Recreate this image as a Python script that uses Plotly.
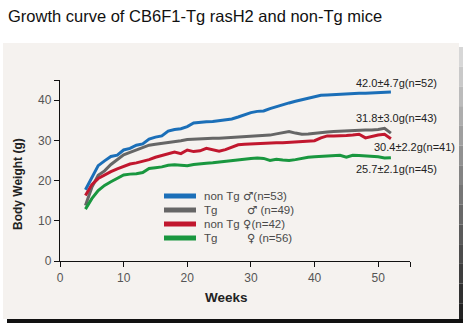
import plotly.graph_objects as go

# Weekly mean body weight (g), weeks 4-52
weeks = list(range(4, 53))

non_tg_male = [17.7, 20.8, 23.7, 24.9, 26.0, 26.3, 27.6, 28.0, 28.8, 29.1,
               30.3, 30.8, 31.1, 32.3, 32.7, 32.9, 33.4, 34.3, 34.5, 34.6,
               34.7, 34.9, 35.0, 35.3, 35.8, 36.3, 36.9, 37.2, 37.3, 37.9,
               38.4, 38.9, 39.3, 39.7, 40.1, 40.5, 40.9, 41.2, 41.3, 41.4,
               41.5, 41.5, 41.6, 41.7, 41.7, 41.8, 41.9, 41.9, 42.0]
tg_male = [13.8, 18.3, 21.3, 22.4, 24.0, 25.2, 26.4, 27.0, 27.6, 28.2,
           28.8, 29.0, 29.2, 29.4, 29.7, 29.9, 30.2, 30.3, 30.4, 30.4,
           30.5, 30.5, 30.6, 30.7, 30.8, 30.9, 31.0, 31.0, 31.1, 31.3,
           31.6, 31.9, 32.2, 31.8, 31.5, 31.6, 31.8, 32.0, 32.1, 32.2,
           32.3, 32.4, 32.4, 32.5, 32.6, 32.6, 32.7, 33.0, 31.8]
non_tg_female = [16.3, 19.0, 20.5, 21.4, 22.2, 22.9, 23.5, 24.1, 24.4, 24.8,
                 25.2, 25.8, 26.2, 26.7, 27.1, 26.7, 27.6, 27.2, 27.4, 28.0,
                 27.6, 27.3, 27.7, 28.3, 28.9, 29.0, 29.1, 29.2, 29.3, 29.3,
                 29.4, 29.4, 29.5, 29.6, 29.7, 29.8, 29.9, 30.6, 31.1, 31.1,
                 31.1, 31.2, 31.3, 31.5, 30.6, 31.0, 31.3, 31.5, 30.4]
tg_female = [12.9, 15.5, 17.5, 18.8, 19.7, 20.6, 21.4, 21.6, 21.7, 22.0,
             23.0, 23.2, 23.4, 23.8, 23.9, 23.8, 23.7, 24.0, 24.2, 24.3,
             24.4, 24.6, 24.8, 25.0, 25.2, 25.4, 25.5, 25.6, 25.5, 25.0,
             25.3, 25.1, 25.0, 25.2, 25.5, 25.8, 25.9, 26.0, 26.1, 26.2,
             26.3, 25.8, 26.3, 26.2, 26.1, 26.0, 25.9, 25.6, 25.7]

series = [non_tg_male, tg_male, non_tg_female, tg_female]
colors = ["#1b6fb8", "#666666", "#c1172e", "#19973f"]
groups = ["non Tg", "Tg", "non Tg", "Tg"]
sex_symbols = ["\u2642", "\u2642", "\u2640", "\u2640"]
legend_n = [53, 49, 42, 56]

# Week-52 summary: mean, SD, n
final_sd = [4.7, 3.0, 2.2, 2.1]
final_n = [52, 43, 41, 45]

x_ticks = [0, 10, 20, 30, 40, 50, 55]
x_labels = ["0", "10", "20", "30", "40", "50", ""]
y_ticks = [0, 10, 20, 30, 40, 45]
y_labels = ["0", "10", "20", "30", "40", ""]

W, H = 468, 327
L, R, T, B = 60, 58, 80, 66
PW, PH = W - L - R, H - T - B

FONT = "Arial, Liberation Sans, sans-serif"
SYM_FONT = "DejaVu Sans, sans-serif"


def px(x):
    return (x - L) / PW


def py(y):
    return (H - B - y) / PH


fig = go.Figure()
for ys, c in zip(series, colors):
    fig.add_trace(go.Scatter(x=weeks, y=ys, mode="lines",
                             line=dict(color=c, width=3), showlegend=False,
                             hoverinfo="skip"))

shapes = []
# panel background and drop shadow
shapes.append(dict(type="rect", xref="paper", yref="paper", layer="below",
                   x0=px(3), x1=px(459), y0=py(43), y1=py(319),
                   fillcolor="#f5f2ef", line=dict(width=0)))
n_seg = 14
top, bot = 47, 323
for i in range(n_seg):
    y0 = top + (bot - top) * i / n_seg
    y1 = top + (bot - top) * (i + 1) / n_seg
    g = int(215 - (215 - 35) * (i / (n_seg - 1)))
    shapes.append(dict(type="rect", xref="paper", yref="paper", layer="below",
                       x0=px(459), x1=px(463), y0=py(y0), y1=py(y1),
                       fillcolor=f"rgb({g},{g},{g})", line=dict(width=0)))
shapes.append(dict(type="rect", xref="paper", yref="paper", layer="below",
                   x0=px(7), x1=px(463), y0=py(319), y1=py(323),
                   fillcolor="#111111", line=dict(width=0)))

annotations = []
# legend
leg_y = [196, 210, 224, 238]
sym_x = [241, 245, 241, 245]
for yy, c, g, s, n, sx in zip(leg_y, colors, groups, sex_symbols, legend_n, sym_x):
    shapes.append(dict(type="line", xref="paper", yref="paper",
                       x0=px(164), x1=px(196), y0=py(yy), y1=py(yy),
                       line=dict(color=c, width=5)))
    annotations.append(dict(xref="paper", yref="paper", x=px(202), y=py(yy),
                            text=g, showarrow=False, xanchor="left",
                            yanchor="middle",
                            font=dict(family=FONT, size=11.5, color="#4a4a4a")))
    gap = "" if sx == 241 else " "
    annotations.append(dict(xref="paper", yref="paper", x=px(sx), y=py(yy),
                            text=(f"<span style='font-family:{SYM_FONT}'>{s}</span>"
                                  f"{gap}(n={n})"),
                            showarrow=False, xanchor="left", yanchor="middle",
                            font=dict(family=FONT, size=11.5, color="#4a4a4a")))

# week-52 summary labels
lab_pos = [(46.2, 44.2), (46.2, 35.5), (49.0, 28.3), (46.2, 22.8)]
for ys, sd, n, (lx, ly) in zip(series, final_sd, final_n, lab_pos):
    annotations.append(dict(x=lx, y=ly, xref="x", yref="y",
                            text=f"{ys[-1]:.1f}\u00b1{sd:.1f}g(n={n})",
                            showarrow=False, xanchor="left", yanchor="middle",
                            font=dict(family=FONT, size=11, color="#222222")))

# title and axis titles
annotations.append(dict(xref="paper", yref="paper", x=px(6), y=py(16),
                        text="Growth curve of CB6F1-Tg rasH2 and non-Tg mice",
                        showarrow=False, xanchor="left", yanchor="middle",
                        font=dict(family=FONT, size=16.5, color="#111111")))
annotations.append(dict(xref="paper", yref="paper", x=px(18), y=py(184),
                        text="<b>Body Weight (g)</b>", textangle=-90,
                        showarrow=False, xanchor="center", yanchor="middle",
                        font=dict(family=FONT, size=12, color="#222222")))
annotations.append(dict(xref="paper", yref="paper", x=px(226), y=py(297),
                        text="<b>Weeks</b>", showarrow=False,
                        xanchor="center", yanchor="middle",
                        font=dict(family=FONT, size=13.5, color="#222222")))

axis_common = dict(showline=True, linecolor="#111111", linewidth=1.3,
                   ticks="outside", ticklen=5, tickwidth=1.3,
                   tickcolor="#111111", showgrid=False, zeroline=False,
                   tickfont=dict(family=FONT, size=12, color="#555555"))

fig.update_layout(
    width=W, height=H,
    margin=dict(l=L, r=R, t=T, b=B, pad=0),
    paper_bgcolor="white", plot_bgcolor="rgba(0,0,0,0)",
    xaxis=dict(range=[0, 55], tickvals=x_ticks, ticktext=x_labels,
               **axis_common),
    yaxis=dict(range=[0, 45], tickvals=y_ticks, ticktext=y_labels,
               **axis_common),
    shapes=shapes, annotations=annotations,
)

fig.write_html("out.html", config={"displayModeBar": False})
